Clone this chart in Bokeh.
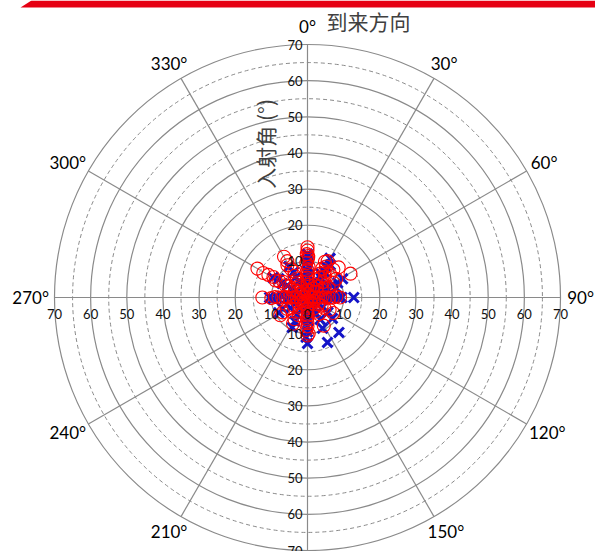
import math
from bokeh.plotting import figure
from bokeh.models import Range1d
from bokeh.core.properties import value
from bokeh.embed import file_html
from bokeh.resources import INLINE

# ---------------- data ----------------
# polar grid
ring_major = [10, 20, 30, 40, 50, 60, 70]
ring_minor = [5, 15, 25, 35, 45, 55, 65]
spoke_angles = [0, 30, 60, 90, 120, 150, 180, 210, 240, 270, 300, 330]
# visible direction labels (180° lies below the visible part of the page)
label_angles = [0, 30, 60, 90, 120, 150, 210, 240, 270, 300, 330]
angle_labels = ["0°", "30°", "60°", "90°", "120°", "150°", "210°", "240°", "270°", "300°", "330°"]
radial_ticks = [10, 20, 30, 40, 50, 60, 70]

# red circles: arrival azimuth (deg, clockwise from top) and incidence angle (deg)
red_az = [
    0, 358, 2, 0, 359, 1, 0, 2, 358, 0, 1, 359, 0, 0, 1,
    27, 33, 30, 25, 32, 28, 34, 27, 31, 26, 29,
    42, 45, 40, 44, 43, 46,
    58, 62, 60, 64, 61, 57, 61,
    90, 88, 92, 90, 89, 91, 90, 88, 90,
    118, 124, 120, 122, 119, 121,
    148, 152, 150, 146, 150,
    180, 178, 182, 180, 179, 181, 180, 180, 182, 178, 180,
    208, 212, 210, 206, 211, 209,
    238, 242, 240, 236, 241, 239, 237,
    270, 268, 272, 270, 269, 271, 270, 270, 271, 269, 270,
    298, 302, 300, 296, 301, 299, 303, 300, 298, 301, 300, 299, 300,
    328, 332, 330, 326, 331, 329, 333, 330, 328, 331, 330,
]
red_inc = [
    1.0, 2.0, 3.5, 4.5, 5.5, 6.5, 7.5, 8.5, 9.5, 10.5, 11.5, 12.0, 13.0, 13.9, 11.0,
    2.0, 3.0, 4.0, 5.5, 6.5, 7.5, 8.5, 9.0, 10.0, 11.0, 11.5,
    4.0, 6.0, 7.5, 9.0, 10.5, 12.0,
    3.0, 4.5, 5.5, 6.5, 8.3, 9.5, 13.6,
    1.0, 2.0, 3.0, 4.0, 5.0, 6.0, 7.0, 8.0, 9.0,
    2.0, 3.5, 4.5, 5.5, 7.0, 8.3,
    2.0, 3.5, 4.5, 5.5, 9.0,
    1.0, 2.0, 3.0, 4.0, 5.0, 6.0, 7.0, 8.0, 9.0, 10.0, 10.5,
    2.0, 3.0, 4.5, 5.5, 7.0, 8.3,
    2.0, 3.0, 4.5, 5.5, 6.5, 8.0, 9.0,
    1.0, 2.0, 3.0, 4.0, 5.0, 6.0, 7.0, 8.0, 9.0, 10.0, 12.5,
    2.0, 3.0, 4.0, 5.0, 6.0, 7.0, 8.0, 9.0, 10.0, 11.0, 12.5, 14.0, 16.0,
    2.0, 3.0, 4.0, 5.0, 6.0, 7.0, 8.0, 9.0, 10.5, 11.5, 13.0,
]

# blue crosses
blue_az = [
    0, 2, 358, 0, 1, 359, 0, 2, 358, 0, 1, 0,
    30, 34, 28, 32, 36, 30, 33, 31, 35, 30,
    62, 66, 60, 68, 63, 71, 64, 62,
    90, 89, 91, 90, 88, 92, 90, 90, 90, 90,
    120, 124, 122, 126, 130, 138,
    148, 152, 150, 154, 156,
    180, 181, 179, 180, 182, 178, 180, 180, 182, 180,
    210, 207, 212, 208, 207,
    240, 244, 246, 238, 242,
    270, 271, 269, 270, 272, 270, 268, 270,
    300, 302, 298, 301, 299, 303, 300,
    330, 328, 332, 330, 331, 329,
]
blue_inc = [
    1.0, 2.0, 3.0, 4.0, 5.5, 6.5, 7.5, 8.5, 9.5, 10.5, 11.5, 12.0,
    1.5, 3.0, 4.0, 5.0, 6.5, 7.5, 8.5, 10.0, 11.0, 12.5,
    2.0, 3.5, 5.0, 6.0, 7.5, 8.3, 9.3, 11.0,
    1.0, 2.0, 3.5, 4.5, 5.5, 6.5, 7.5, 8.5, 9.5, 12.8,
    2.0, 3.5, 5.0, 7.0, 9.0, 13.0,
    3.0, 5.0, 7.0, 9.5, 13.6,
    1.0, 2.0, 3.0, 4.5, 5.5, 6.5, 8.0, 9.5, 11.0, 12.7,
    2.0, 4.0, 5.5, 7.5, 9.3,
    2.0, 4.0, 7.5, 5.5, 9.0,
    1.0, 2.5, 4.0, 5.5, 7.0, 8.5, 9.5, 10.5,
    2.0, 3.5, 5.0, 6.5, 8.0, 9.5, 11.0,
    2.0, 3.5, 5.0, 6.5, 8.0, 10.0,
]

# ---------------- geometry ----------------
W, H = 595, 551
CX, CY = 307.0, 297.0          # pole position in pixels
S = 253.0 / 70.0               # pixels per degree of incidence


def px(sx):
    return (sx - CX) / S


def py(sy):
    return (CY - sy) / S


def polar(az_list, r_list):
    xs = [r * math.sin(math.radians(a)) for a, r in zip(az_list, r_list)]
    ys = [r * math.cos(math.radians(a)) for a, r in zip(az_list, r_list)]
    return xs, ys


p = figure(width=W, height=H, output_backend="svg", toolbar_location=None,
           x_range=Range1d(px(0), px(W)), y_range=Range1d(py(H), py(0)),
           x_axis_type=None, y_axis_type=None, min_border=0,
           outline_line_color=None, background_fill_color="white",
           border_fill_color="white")
p.grid.visible = False
p.styles = {"position": "absolute", "left": "0px", "top": "0px"}

GRID = "#8a8a8a"

# red band at very top
p.patch([px(20), px(31), px(W), px(W)], [py(7), py(0), py(0), py(7)],
        fill_color="#E60012", line_color=None)

# rings
p.circle(x=[0] * len(ring_minor), y=[0] * len(ring_minor), radius=ring_minor,
         fill_color=None, line_color=GRID, line_width=1, line_dash="4 3")
p.circle(x=[0] * len(ring_major), y=[0] * len(ring_major), radius=ring_major,
         fill_color=None, line_color=GRID, line_width=1.2)

# spokes
sx1, sy1 = polar(spoke_angles, [70] * len(spoke_angles))
p.segment(x0=[0] * len(spoke_angles), y0=[0] * len(spoke_angles), x1=sx1, y1=sy1,
          line_color=GRID, line_width=1.2)

# data
bx, by = polar(blue_az, blue_inc)
p.scatter(bx, by, marker="x", size=14, line_color="#1414C8", line_width=3)
rx, ry = polar(red_az, red_inc)
p.scatter(rx, ry, marker="circle", size=13, fill_color=None, line_color="#FF0000",
          line_width=1.1)

NUM_FONT = value("Lato")
# radial tick labels along vertical axis
vt = [str(v) for v in radial_ticks]
p.text(x=[0] * len(radial_ticks), y=radial_ticks, text=vt, text_align="right",
       text_baseline="middle", x_offset=-5, text_font=NUM_FONT,
       text_font_size="13px", text_color="#111111")
p.text(x=[0] * len(radial_ticks), y=[-v for v in radial_ticks], text=vt,
       text_align="right", text_baseline="middle", x_offset=-5,
       text_font=NUM_FONT, text_font_size="13px", text_color="#111111")
# radial tick labels along horizontal axis
ht = ["0"] + vt + vt
hx = [0] + radial_ticks + [-v for v in radial_ticks]
p.text(x=hx, y=[0] * len(hx), text=ht, text_align="center", text_baseline="middle",
       y_offset=16, text_font=NUM_FONT, text_font_size="13px", text_color="#111111")

# angle labels
lab_r = 72.5
lx, ly = polar(label_angles, [lab_r] * len(label_angles))
xo = [math.sin(math.radians(a)) * 3.7 * len(t) for a, t in zip(label_angles, angle_labels)]
yo = [-math.cos(math.radians(a)) * 8.5 for a in label_angles]
p.text(x=lx, y=ly, text=angle_labels, x_offset=xo, y_offset=yo, text_align="center",
       text_baseline="middle", text_font=NUM_FONT, text_font_size="17px",
       text_color="#000000")

# titles
CJK = value("Noto Sans CJK SC")
p.text(x=[px(326)], y=[py(20)], text=["到来方向"], text_align="left",
       text_baseline="middle", text_font=CJK, text_font_size="21px",
       text_color="#404040")
p.text(x=[px(264)], y=[py(141)], text=["入射角  (°)"], angle=math.pi / 2,
       text_align="center", text_baseline="middle", text_font=CJK,
       text_font_size="21px", text_color="#404040")

open("out.html", "w").write(file_html(p, INLINE))
